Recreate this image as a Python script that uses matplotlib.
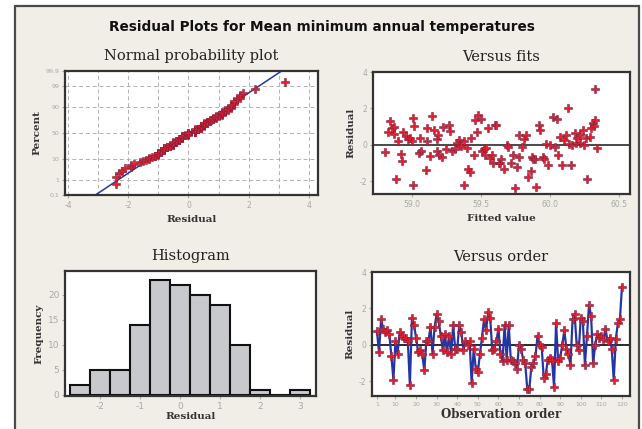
import numpy as np
import matplotlib
matplotlib.use("Agg")
import matplotlib.pyplot as plt
from matplotlib.patches import Rectangle
from statistics import NormalDist

plt.rcParams["axes.unicode_minus"] = False

resid_order = [
    0.75, -0.4, 1.4, 0.9, 0.7, 0.8, 0.6, -0.6, -1.9, 0.2,
    -0.5, 0.7, 0.5, 0.4, 0.4, 0.2, -2.2, 1.5, 1.1, 0.4,
    -0.4, -0.3, -0.5, -1.4, 0.2, 0.2, 1.0, -0.5, 1.0, 1.7,
    1.3, 0.5, -0.3, 0.6, -0.4, 0.5, -0.5, 1.1, -0.2, -0.2,
    1.1, 0.7, -0.3, 0.2, 0.0, 0.2, -2.1, -0.2, -1.3, -1.5,
    -0.5, 0.4, 1.4, 0.8, 1.8, 1.5, -0.3, -0.2, 0.2, 0.9,
    -0.5, -0.9, 1.1, -0.8, 1.1, -0.8, -0.9, -1.0, -1.3, 0.0,
    -0.2, -0.8, -1.0, -2.4, -2.4, -1.2, -1.0, -0.6, 0.5, 0.0,
    -0.1, -1.8, -1.6, -0.8, -0.7, -0.8, -2.3, 1.2, -0.9, -0.7,
    0.0, 0.8, -0.2, -0.5, -1.1, 1.4, 1.7, 0.0, -0.3, 1.5,
    1.3, -1.1, 0.5, 2.2, 1.6, -1.0, 0.0, 0.6, 0.4, 0.5,
    0.3, 0.9, 0.2, 0.4, -0.2, -1.9, 0.3, 1.2, 1.4, 3.2,
]

# versus fits panel (fitted value, residual)
fits_x = [
    58.81, 58.84, 58.83, 58.86, 58.87, 58.87, 58.89, 58.90, 58.92, 58.93,
    58.94, 58.96, 58.97, 58.99, 59.00, 59.01, 59.02, 59.01, 59.05, 59.06,
    59.07, 59.10, 59.11, 59.11, 59.13, 59.15, 59.16, 59.18, 59.18, 59.19,
    59.20, 59.22, 59.23, 59.25, 59.27, 59.28, 59.29, 59.31, 59.33, 59.34,
    59.35, 59.36, 59.38, 59.38, 59.40, 59.41, 59.42, 59.43, 59.45, 59.46,
    59.47, 59.48, 59.50, 59.51, 59.52, 59.53, 59.54, 59.55, 59.57, 59.58,
    59.59, 59.60, 59.61, 59.63, 59.64, 59.65, 59.67, 59.69, 59.70, 59.72,
    59.73, 59.75, 59.76, 59.78, 59.78, 59.80, 59.81, 59.83, 59.84, 59.86,
    59.87, 59.88, 59.89, 59.90, 59.92, 59.93, 59.95, 59.96, 59.97, 59.99,
    60.00, 60.02, 60.04, 60.05, 60.06, 60.07, 60.09, 60.10, 60.12, 60.13,
    60.14, 60.15, 60.16, 60.18, 60.19, 60.20, 60.22, 60.22, 60.24, 60.25,
    60.26, 60.27, 60.29, 60.30, 60.31, 60.32, 60.33, 60.33, 60.34,
]
fits_resid = [
    -0.4, 1.3, 0.7, 0.9, 0.6, 1.0, -1.9, 0.2, -0.5, -0.9,
    0.7, 0.5, 0.3, 0.4, 0.2, 1.45, 1.05, -2.2, -0.45, 0.4,
    -0.35, -1.4, 0.2, 0.9, -0.6, 1.6, 0.8, 0.3, -0.35, 0.55,
    -0.55, -0.65, 1.0, -0.25, 1.1, 0.75, -0.35, -0.25, 0.1, 0.25,
    0.0, -0.05, 0.2, -2.2, -0.2, -1.3, -1.5, 0.35, -0.55, 1.35,
    0.7, 1.65, 1.4, -0.35, -0.25, -0.55, -0.2, 0.9, -0.7, -0.55,
    -1.0, 1.1, 1.1, -1.0, -1.0, -0.8, -1.35, 0.0, -0.1, -1.0,
    -0.55, -2.35, -1.2, -0.65, 0.55, -0.1, 0.3, 0.55, -1.75, -1.45,
    -0.65, -0.8, -0.8, -2.3, 1.1, 0.8, -0.65, -0.8, 0.05, -1.1,
    0.0, 1.55, -0.1, 1.4, -0.55, 0.45, -1.1, 0.25, 0.55, 2.05,
    0.05, -1.1, 0.0, 0.65, 0.1, 0.35, 0.1, 0.55, 0.8, 0.0,
    0.35, -1.9, 0.45, 0.9, 1.2, 1.05, 1.35, 3.05, -0.2,
]

# histogram bins (centres) and counts
hist_centers = [-2.5, -2.0, -1.5, -1.0, -0.5, 0.0, 0.5, 1.0, 1.5, 2.0, 2.5, 3.0]
hist_counts = [2, 5, 5, 14, 23, 22, 20, 18, 10, 1, 0, 1]

# fitted normal line for probability plot
line_mu = 0.0
line_sigma = 1.0

pct_ticks = [0.1, 1, 10, 50, 90, 99, 99.9]
pct_labels = ["0.1", "1", "10", "50", "90", "99", "99.9"]

RED = "#dc2230"
RED_EDGE = "#8a1c3a"
BLUE = "#2436a4"
TICKC = "#a8a8a8"
SPINE = "#333333"
BG = "#f0eee6"
MS = 5.5

nd = NormalDist()

fig = plt.figure(figsize=(6.42, 4.29), dpi=100)
fig.patch.set_facecolor("white")
fig.patches.append(Rectangle((15 / 642, -0.02), (639 - 15) / 642, 1 - 6 / 429 + 0.02,
                             transform=fig.transFigure, facecolor=BG,
                             edgecolor="#4a4a4a", linewidth=1.6, zorder=-5))

serif = "DejaVu Serif"


def style_axes(ax, labelsize=5.5):
    ax.set_facecolor("white")
    for s in ax.spines.values():
        s.set_color(SPINE)
        s.set_linewidth(1.6)
    ax.tick_params(color=TICKC, labelcolor=TICKC, labelsize=labelsize,
                   length=2.5, width=0.8, pad=1.5)


def add_title(ax, text):
    ax.set_title(text, family=serif, fontsize=10.5, color="#222222", pad=8)


def add_xlabel(ax, text, pad=1, size=7.5):
    ax.set_xlabel(text, family=serif, fontsize=size, fontweight="bold", color="#333333", labelpad=pad)


def add_ylabel(ax, text):
    ax.set_ylabel(text, family=serif, fontsize=7.5, fontweight="bold", color="#333333", labelpad=3)


# ---- Normal probability plot
ax1 = fig.add_axes([65 / 642, 1 - 195 / 429, 253 / 642, 124 / 429])
r_sorted = np.sort(np.array(resid_order))
n = len(r_sorted)
ranks = (np.arange(1, n + 1) - 0.3) / (n + 0.4)
z_pts = [nd.inv_cdf(p) for p in ranks]
zlo, zhi = nd.inv_cdf(0.001), nd.inv_cdf(0.999)
ax1.plot([line_mu + zlo * line_sigma, line_mu + zhi * line_sigma], [zlo, zhi],
         color=BLUE, lw=1.1, zorder=2)
ax1.plot(r_sorted, z_pts, ls="none", marker="P", ms=MS, mfc=RED, mec=RED_EDGE,
         mew=0.4, zorder=3)
ax1.set_xlim(-4.1, 4.3)
ax1.set_ylim(zlo, zhi)
ax1.set_xticks([-4, -2, 0, 2, 4])
ax1.set_xticks(np.arange(-4, 5, 1), minor=True)
ax1.set_yticks([nd.inv_cdf(p / 100) for p in pct_ticks])
ax1.set_yticklabels(pct_labels)
ax1.grid(True, which="both", axis="x", ls=(0, (4, 3)), color="#b0b0b0", lw=0.7)
for p in [1, 10, 50, 90, 99]:
    ax1.axhline(nd.inv_cdf(p / 100), ls=(0, (4, 3)), color="#b0b0b0", lw=0.7, zorder=1)
style_axes(ax1)
ax1.tick_params(axis="y", labelsize=4.5)
ax1.tick_params(which="minor", length=0)
add_title(ax1, "Normal probability plot")
add_xlabel(ax1, "Residual", pad=4)
add_ylabel(ax1, "Percent")

# ---- Versus fits
ax2 = fig.add_axes([373 / 642, 1 - 194 / 429, 257 / 642, 122 / 429])
ax2.axhline(0, color="#3a3a3a", lw=1.3, zorder=2)
ax2.plot(fits_x, fits_resid, ls="none", marker="P", ms=MS, mfc=RED, mec=RED_EDGE,
         mew=0.4, zorder=3)
ax2.set_xlim(58.72, 60.58)
ax2.set_ylim(-2.7, 4)
ax2.set_xticks([59.0, 59.5, 60.0, 60.5])
ax2.set_xticklabels(["59.0", "59.5", "60.0", "60.5"])
ax2.set_yticks([-2, 0, 2, 4])
style_axes(ax2)
add_title(ax2, "Versus fits")
add_xlabel(ax2, "Fitted value", pad=4)
add_ylabel(ax2, "Residual")

# ---- Histogram
ax3 = fig.add_axes([65 / 642, 1 - 396 / 429, 251 / 642, 125 / 429])
ax3.bar(hist_centers, hist_counts, width=0.5, color="#c7c9cc", edgecolor="#111111",
        linewidth=1.5, zorder=2)
ax3.set_xlim(-2.87, 3.4)
ax3.set_ylim(-0.3, 24.7)
ax3.set_xticks([-2, -1, 0, 1, 2, 3])
ax3.set_yticks([0, 5, 10, 15, 20])
style_axes(ax3, labelsize=6.5)
add_title(ax3, "Histogram")
add_xlabel(ax3, "Residual")
add_ylabel(ax3, "Frequency")

# ---- Versus order
ax4 = fig.add_axes([372 / 642, 1 - 396 / 429, 258 / 642, 124 / 429])
obs = np.arange(1, len(resid_order) + 1)
ax4.axhline(0, color="#2a2a2a", lw=1.4, zorder=2)
ax4.plot(obs, resid_order, color=BLUE, lw=1.6, zorder=3)
ax4.plot(obs, resid_order, ls="none", marker="P", ms=MS, mfc=RED, mec=RED_EDGE,
         mew=0.4, zorder=4)
ax4.set_xlim(-1.4, 123.9)
ax4.set_ylim(-2.8, 4)
ax4.set_xticks([1] + list(range(10, 121, 10)))
ax4.set_yticks([-2, 0, 2, 4])
style_axes(ax4)
ax4.tick_params(axis="x", labelsize=4.5)
add_title(ax4, "Versus order")
add_xlabel(ax4, "Observation order", size=8.5)
add_ylabel(ax4, "Residual")

fig.text(322 / 642, 1 - 27 / 429, "Residual Plots for Mean minimum annual temperatures",
         ha="center", va="center", fontsize=9.8, fontweight="bold", color="#111111")

fig.savefig("out.png", dpi=100, facecolor=fig.get_facecolor())
